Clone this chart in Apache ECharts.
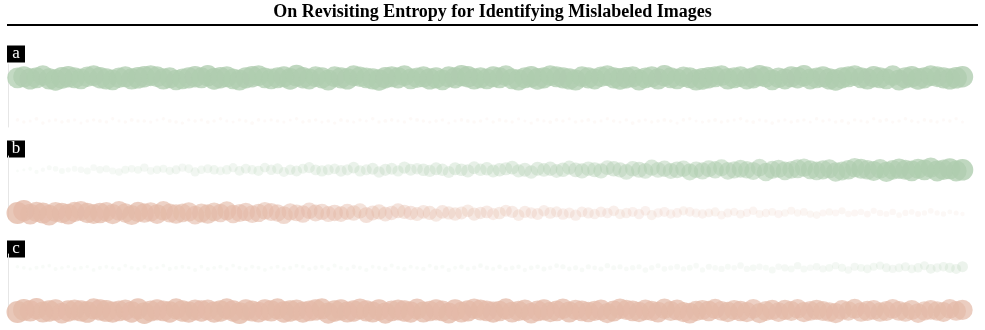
<!DOCTYPE html>
<html>
<head>
<meta charset="utf-8">
<script src="https://cdn.jsdelivr.net/npm/echarts@6/dist/echarts.min.js"></script>
<style>
  html, body { margin: 0; padding: 0; background: #fff; }
  #chart { width: 985px; height: 330px; }
</style>
</head>
<body>
<div id="chart"></div>
<script>
const title = 'On Revisiting Entropy for Identifying Mislabeled Images';
const panelLabels = ['a', 'b', 'c'];

// score per image (0-100), one per column, top row = green, bottom row = red
const aGreen = [
  94,96,97,95,93,96,98,99,97,95, 94,92,95,97,96,94,93,95,96,98,
  97,95,94,96,95,93,94,96,97,95, 96,98,97,95,94,95,96,97,95,94,
  93,95,96,98,99,97,95,94,96,95, 94,96,97,95,93,94,96,98,97,95,
  96,95,94,93,95,97,96,94,95,96, 97,98,96,95,94,96,95,93,94,96,
  95,97,98,96,94,95,96,97,95,94, 96,95,93,94,96,98,97,95,96,94,
  95,96,97,95,94,93,95,96,98,97, 95,94,96,95,94,95,96,97,95,94,
  93,95,96,97,96,95,94,96,97,98, 96,95,94,95,96,97,95,94,93,95,
  96,97,98,96,95,94,96,97,98,97
];
const aRed = [
  8,7,5,9,8,6,7,8,9,6, 5,8,7,9,8,7,6,8,9,7,
  8,6,5,7,9,8,7,6,8,7, 9,8,7,6,5,7,8,9,8,6,
  7,8,6,5,7,8,9,7,6,8, 7,9,8,6,7,5,8,7,9,8,
  6,7,8,9,7,6,8,7,5,6, 8,9,7,8,6,7,9,8,7,6,
  5,7,8,6,9,8,7,6,8,7, 9,8,6,7,8,5,7,9,8,6,
  7,8,9,7,6,8,7,5,6,8, 9,7,8,6,7,8,9,6,7,8,
  7,6,8,9,7,5,8,7,6,8, 9,8,7,6,8,7,9,8,6,7,
  8,7,6,8,9,7,6,8,7,5
];
const bGreen = [
  4,5,9,11,12,15,18,20,16,19, 22,25,23,27,26,24,28,30,27,29,
  31,28,33,30,32,35,31,34,36,33, 35,37,34,38,36,39,40,37,41,39,
  42,44,40,43,45,41,46,44,47,45, 43,48,46,49,47,45,50,48,51,49,
  47,52,50,48,53,51,54,52,50,55, 53,56,54,52,57,55,58,56,59,57,
  60,58,61,59,62,60,63,61,64,66, 63,65,67,64,68,66,69,67,70,68,
  71,69,72,70,74,72,75,73,76,74, 77,75,78,76,79,77,80,78,82,80,
  81,83,79,84,82,85,83,86,84,87, 85,88,86,89,87,90,88,91,89,92,
  90,93,91,94,92,95,93,96,95,98
];
const bRed = [
  100,97,94,92,95,93,90,92,94,91, 89,92,90,93,88,91,89,87,90,92,
  88,86,89,87,85,88,84,86,83,85, 87,84,82,85,83,80,82,79,81,78,
  80,77,79,76,74,77,73,75,72,70, 73,69,71,68,66,69,65,67,64,62,
  65,61,63,60,58,61,57,59,56,58, 55,53,56,52,54,51,53,50,52,49,
  51,48,50,47,49,46,48,45,47,44, 46,43,45,42,44,41,43,40,42,39,
  41,38,40,37,39,36,38,35,37,34, 36,33,35,32,34,31,33,30,32,29,
  31,28,30,27,29,26,28,25,27,24, 26,23,25,22,24,21,23,20,22,19,
  21,18,20,17,19,16,17,14,15,12
];
const cGreen = [
  8,9,7,10,9,8,10,9,8,9, 10,8,9,11,9,8,10,9,10,8,
  9,10,8,9,11,10,9,8,10,9, 10,9,11,8,9,10,9,11,10,9,
  8,10,9,11,10,9,10,12,9,10, 11,10,9,12,10,11,9,10,12,11,
  10,12,11,9,12,10,13,11,12,10, 13,11,12,14,12,11,13,12,14,13,
  12,14,13,15,12,14,16,13,15,14, 16,14,15,17,15,16,14,17,16,18,
  17,15,18,16,19,17,20,18,16,21, 19,22,20,18,23,21,24,22,20,25,
  23,26,24,27,25,23,28,26,29,27, 30,28,31,29,33,30,32,35,31,34,
  36,33,37,35,39,36,38,41,40,45
];
const cRed = [
  100,98,96,97,95,98,96,94,97,95, 96,98,95,97,99,96,94,95,97,96,
  98,95,96,94,97,95,98,96,95,97, 94,96,98,95,97,99,96,95,94,97,
  96,95,97,98,95,96,94,97,95,96, 98,96,95,97,94,96,95,97,96,94,
  95,97,96,94,95,93,96,94,95,97, 94,96,93,95,94,96,93,95,94,92,
  95,93,94,96,92,94,93,95,92,94, 93,91,94,92,95,93,91,94,92,93,
  91,94,92,90,93,91,94,92,90,93, 91,89,92,90,93,91,89,92,90,91,
  89,92,90,88,91,89,92,90,88,91, 89,87,90,88,91,89,87,90,88,89,
  87,90,88,86,89,87,90,88,89,92
];

// vertical wobble of each mark within its row
const aGreenJit = [
  0,1,-1,0,2,-1,-2,0,1,0, -1,1,2,0,-1,-2,0,1,-1,0,
  1,2,1,-1,0,-2,-1,0,1,0, 2,-1,0,1,-1,-2,0,1,2,0,
  -1,0,1,-1,2,0,-1,1,0,-2, 1,0,-1,2,1,0,-1,-2,0,1,
  0,2,-1,0,1,-1,0,-2,1,0, 2,1,-1,0,-1,1,0,2,-1,-2,
  0,1,-1,0,2,1,0,-1,-2,1, 0,-1,1,2,0,-1,0,1,-2,0,
  1,-1,2,0,-1,1,0,-2,-1,0, 1,2,-1,0,1,-1,0,2,1,-2,
  0,-1,1,0,2,-1,0,1,-1,-2, 0,1,2,0,-1,1,0,-1,2,-2,
  0,1,-1,0,2,1,0,-1,0,1
];
const aRedJit = [
  1,-1,0,2,-2,0,1,-1,0,1, -2,0,1,0,-1,2,0,-1,1,0,
  0,-1,1,2,0,-1,-2,1,0,1, -1,0,2,0,-1,1,0,-2,1,0,
  1,0,-1,1,2,-1,0,1,-1,0, -2,1,0,-1,1,0,2,-1,0,1,
  0,-1,2,1,0,-1,0,1,-2,0, 1,0,-1,0,2,-1,1,0,-1,2,
  0,-2,1,0,-1,1,0,2,-1,0, 1,-1,0,2,0,-1,1,-2,0,1,
  -1,0,1,0,-2,1,2,0,-1,0, 1,-1,0,1,2,0,-1,1,0,-2,
  0,1,-1,0,1,-1,2,0,1,-1, 0,-2,1,0,-1,2,0,1,-1,0,
  2,0,-1,1,0,-1,1,0,2,-1
];
const bGreenJit = [
  -1,0,1,-2,0,2,1,-1,0,1, 0,-1,2,0,1,-1,-2,0,1,0,
  2,-1,0,1,-1,0,2,1,-2,0, 1,0,-1,0,2,-1,1,0,-1,2,
  0,1,-2,0,-1,1,2,0,-1,0, 1,-1,0,2,-1,0,1,-2,0,1,
  -1,2,0,1,0,-1,1,0,-2,1, 0,-1,2,0,1,-1,0,1,2,-1,
  0,-2,1,0,1,-1,0,2,0,-1, 1,0,-1,2,1,0,-2,1,0,-1,
  2,0,1,-1,0,1,-2,0,-1,1, 0,2,-1,0,1,0,-1,2,-2,0,
  1,-1,0,1,2,0,-1,0,1,-2, -1,0,2,1,0,-1,1,-2,0,1,
  0,-1,1,0,2,-1,0,1,-1,0
];
const bRedJit = [
  0,2,-1,1,0,-2,1,0,-1,1, 2,0,-1,0,1,-1,2,0,-2,1,
  0,1,-1,2,0,-1,0,1,-2,0, -1,1,0,2,-1,0,1,-1,0,2,
  1,0,-2,1,0,-1,2,0,1,-1, 0,-1,1,0,2,-2,0,1,-1,0,
  2,1,0,-1,1,0,-2,1,0,-1, 0,2,-1,0,1,-1,0,2,1,-2,
  1,0,-1,2,0,1,-1,0,-2,1, 0,-1,1,0,2,-1,0,1,-1,2,
  -2,0,1,-1,0,2,1,0,-1,0, 1,-2,0,1,-1,0,2,-1,0,1,
  -1,0,2,0,1,-1,-2,0,1,0, 2,-1,0,1,-1,2,0,-1,1,-2,
  0,1,-1,0,2,0,-1,1,0,-1
];
const cGreenJit = [
  1,0,-1,0,1,2,-1,0,1,-1, 0,1,-2,0,1,0,-1,2,0,-1,
  1,-1,0,2,-1,0,1,0,-2,1, -1,0,1,-1,2,0,-1,1,0,-2,
  0,1,-1,0,2,1,-1,0,1,-1, 2,0,-1,1,0,-2,1,0,-1,2,
  0,-1,1,0,-1,2,0,1,-2,0, 1,-1,0,2,0,-1,1,-1,0,1,
  -2,0,1,-1,0,2,1,-1,0,-2, 1,0,-1,2,0,1,-1,0,1,-2,
  0,2,-1,0,1,-1,0,2,-2,1, 0,-1,1,0,2,-1,0,1,0,-2,
  1,0,-1,2,-1,0,1,-1,0,2, 0,-2,1,0,-1,1,2,0,-1,0,
  1,-1,0,2,-1,0,1,0,-1,1
];
const cRedJit = [
  -1,1,0,2,-1,0,1,-2,0,1, 0,-1,2,1,0,-1,0,1,-1,2,
  -2,0,1,0,-1,2,0,-1,1,0, 1,-1,0,2,0,-2,1,0,-1,1,
  0,2,-1,0,1,-1,0,1,2,-2, 0,1,-1,0,2,0,-1,1,-2,0,
  1,0,-1,2,-1,0,1,0,-2,1, -1,0,2,1,0,-1,0,2,-1,0,
  1,-2,0,1,-1,0,2,-1,1,0, -1,0,1,-2,0,2,1,0,-1,1,
  0,-1,2,0,1,-1,-2,0,1,0, 2,0,-1,1,0,-1,2,-2,0,1,
  -1,1,0,2,-1,0,1,0,-1,-2, 1,0,2,-1,0,1,-1,0,2,0,
  -1,1,-2,0,1,0,-1,2,0,1
];

const rows = [
  { panel: 0, level: 1, kind: 'green', scores: aGreen, jit: aGreenJit },
  { panel: 0, level: 0, kind: 'red',   scores: aRed,   jit: aRedJit },
  { panel: 1, level: 1, kind: 'green', scores: bGreen, jit: bGreenJit },
  { panel: 1, level: 0, kind: 'red',   scores: bRed,   jit: bRedJit },
  { panel: 2, level: 1, kind: 'green', scores: cGreen, jit: cGreenJit },
  { panel: 2, level: 0, kind: 'red',   scores: cRed,   jit: cRedJit }
];

const rgb = { green: [175, 205, 175], red: [228, 186, 168] };
const gridTops = [64, 156, 254];
const gridH = 63;

const chart = echarts.init(document.getElementById('chart'));

const grids = gridTops.map(t => ({ left: 8, width: 964, top: t, height: gridH }));
const xAxes = gridTops.map((t, i) => ({
  gridIndex: i, type: 'value', min: -1.5, max: 150.5, show: false
}));
const yAxes = gridTops.map((t, i) => ({
  gridIndex: i, type: 'value', min: -0.14, max: 1.32,
  axisLine: { show: true, onZero: false, lineStyle: { color: '#e6e6e6', width: 1 } },
  axisTick: { show: false }, axisLabel: { show: false }, splitLine: { show: false }
}));

const series = rows.map(r => ({
  type: 'scatter',
  xAxisIndex: r.panel,
  yAxisIndex: r.panel,
  silent: true,
  symbol: 'circle',
  data: r.scores.map((v, i) => [i, r.level + r.jit[i] * 0.025, v]),
  symbolSize: val => 2 + val[2] * 0.2,
  itemStyle: {
    color: p => {
      const s = p.data[2] / 100;
      const a = Math.min(1, 0.1 + 0.95 * s * s);
      const c = rgb[r.kind];
      return `rgba(${c[0]},${c[1]},${c[2]},${a.toFixed(3)})`;
    }
  }
}));

const labelTops = [45, 140, 240];
const graphic = [
  {
    type: 'text', left: 'center', top: 3,
    style: { text: title, font: 'bold 18px "Liberation Serif", "Times New Roman", serif', fill: '#000' }
  },
  {
    type: 'line', shape: { x1: 7, y1: 25, x2: 978, y2: 25 },
    style: { stroke: '#000', lineWidth: 2 }
  }
];
panelLabels.forEach((lab, i) => {
  graphic.push({
    type: 'group', left: 7, top: labelTops[i],
    children: [
      { type: 'rect', shape: { x: 0, y: 0, width: 18, height: 17 }, style: { fill: '#000' } },
      {
        type: 'text', x: 9, y: 8,
        style: {
          text: lab, fill: '#fff', align: 'center', verticalAlign: 'middle',
          font: '17px "Liberation Serif", "Times New Roman", serif'
        }
      }
    ]
  });
});

chart.setOption({
  animation: false,
  grid: grids,
  xAxis: xAxes,
  yAxis: yAxes,
  series,
  graphic
});
</script>
</body>
</html>
